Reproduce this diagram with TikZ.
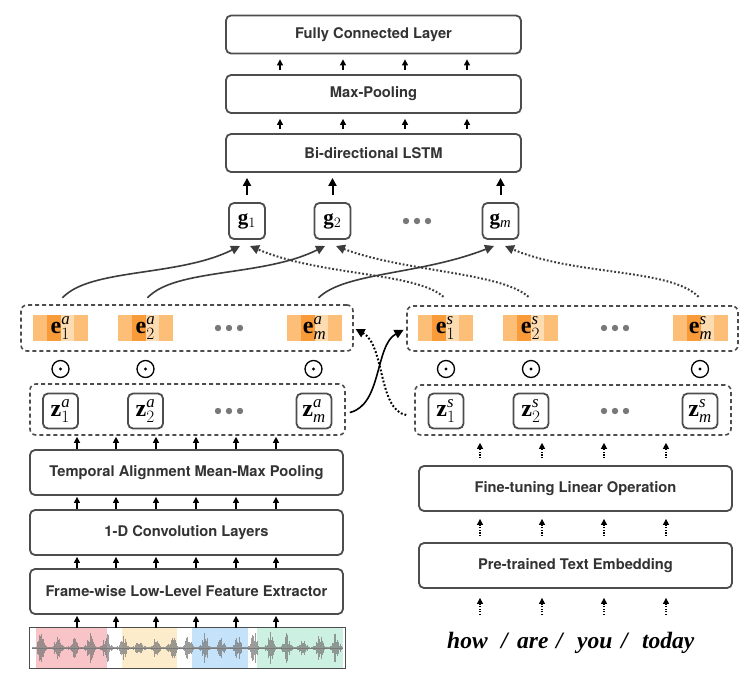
\documentclass[tikz,border=0pt]{standalone}
\usepackage{fontspec}
\setmainfont{Liberation Serif}
\newfontfamily\hv{TeX Gyre Heros}
\usetikzlibrary{arrows.meta,calc}
\definecolor{boxline}{RGB}{77,77,77}
\definecolor{txt}{RGB}{51,51,51}
\definecolor{oA}{RGB}{253,191,120}
\definecolor{oB}{RGB}{249,155,56}
\definecolor{oC}{RGB}{253,220,178}
\definecolor{dotgray}{RGB}{120,120,120}
\definecolor{curvegray}{RGB}{60,60,60}
\definecolor{wRed}{RGB}{248,196,200}
\definecolor{wYel}{RGB}{253,236,204}
\definecolor{wBlu}{RGB}{196,226,250}
\definecolor{wGrn}{RGB}{204,240,226}
\begin{document}
\begin{tikzpicture}[x=1pt,y=-1pt,
  layer/.style={draw=boxline, line width=1.8pt, rounded corners=5pt, fill=white,
    minimum width=#1, minimum height=38pt, inner sep=0pt,
    font=\hv\bfseries\fontsize{14.7}{17}\selectfont, text=txt},
  layer/.default=295pt,
  sq/.style={draw=boxline, line width=1.8pt, rounded corners=5pt, fill=white,
    minimum size=35pt, inner sep=0pt, font=\fontsize{24}{28}\selectfont},
  dbox/.style={draw=boxline, dash pattern=on 4pt off 3pt, line width=1.6pt,
    rounded corners=6pt, inner sep=0pt},
  eblk/.style={fill=oA, minimum width=55pt, minimum height=26pt, inner sep=0pt,
    font=\fontsize{24}{28}\selectfont,
    path picture={
      \fill[oB] ($(path picture bounding box.south west)!0.25!(path picture bounding box.south east)$)
        rectangle ($(path picture bounding box.north west)!0.5!(path picture bounding box.north east)$);
      \fill[oC] ($(path picture bounding box.south west)!0.5!(path picture bounding box.south east)$)
        rectangle ($(path picture bounding box.north west)!0.75!(path picture bounding box.north east)$);
    }},
  odotc/.style={circle, draw=black, line width=1.3pt, minimum size=17pt, inner sep=0pt},
  arr/.style={-{Triangle[width=6pt,length=6pt]}, line width=1.2pt, draw=black},
  arrbig/.style={-{Triangle[width=8pt,length=8pt]}, line width=2pt, draw=black},
  darr/.style={-{Triangle[width=6pt,length=6pt]}, line width=1.1pt, dash pattern=on 1.3pt off 1.3pt, draw=black},
  scurve/.style={-{Triangle[width=9pt,length=9pt]}, line width=1.6pt, draw=curvegray, fill=none},
  dcurve/.style={-{Triangle[width=9pt,length=9pt]}, line width=2pt, draw=curvegray, dash pattern=on 1.8pt off 2pt},
  xsolid/.style={-{Triangle[width=9pt,length=9pt]}, line width=1.6pt, draw=black},
  xdot/.style={-{Triangle[width=9pt,length=9pt]}, line width=2pt, draw=black, dash pattern=on 1.8pt off 2pt},
  word/.style={anchor=base west, inner sep=0pt, font=\bfseries\itshape\fontsize{23.5}{28}\selectfont},
  wave/.style={draw=black!55, line width=0.55pt, opacity=0.7}
]
\useasboundingbox (0,0) rectangle (755,678);
\fill[white] (0,0) rectangle (755,678);

% ---------------- top layers
\node[layer] (fc) at (373.5,34.5) {Fully Connected Layer};
\node[layer] (mp) at (373.5,94) {Max-Pooling};
\node[layer] (lstm) at (373.5,153) {Bi-directional LSTM};
\foreach \x in {280,343,405,467} {
  \draw[arr, shorten <=4pt, shorten >=5pt] (mp.north -| \x,0) -- (fc.south -| \x,0);
  \draw[arr, shorten <=4pt, shorten >=5pt] (lstm.north -| \x,0) -- (mp.south -| \x,0);
}

% ---------------- g nodes
\node[sq, minimum size=36pt, font=\fontsize{21}{25}\selectfont] (g1) at (247,221) {$\mathbf{g}_{1}$};
\node[sq, minimum size=36pt, font=\fontsize{21}{25}\selectfont] (g2) at (332.5,221) {$\mathbf{g}_{2}$};
\node[sq, minimum size=36pt, font=\fontsize{21}{25}\selectfont] (gm) at (500.5,221) {$\mathbf{g}_{\mathit{m}}$};
\foreach \n in {g1,g2,gm}
  \draw[arrbig, shorten <=7pt, shorten >=5pt] (\n.north) -- (lstm.south -| \n.north);
\foreach \x in {406,417,428} \fill[dotgray] (\x,221) circle (3.2);

\coordinate (g1a) at (240,246);
\coordinate (g1s) at (250,246);
\coordinate (g2a) at (325,246);
\coordinate (g2s) at (336,246);
\coordinate (gma) at (494,246);
\coordinate (gms) at (505,246);

% ---------------- audio e row
\node[dbox, minimum width=332pt, minimum height=46pt] (eadash) at (187,328) {};
\node[eblk] (ea1) at (60.5,328) {$\mathbf{e}^{\mathit{a}}_{1}$};
\node[eblk] (ea2) at (145.5,328) {$\mathbf{e}^{\mathit{a}}_{2}$};
\node[eblk] (eam) at (314.5,328) {$\mathbf{e}^{\mathit{a}}_{\mathit{m}}$};
\foreach \x in {218,229,240} \fill[dotgray] (\x,328) circle (3.2);

% ---------------- text e row
\node[dbox, minimum width=331pt, minimum height=45pt] (esdash) at (572.5,328.5) {};
\node[eblk] (es1) at (445.5,328) {$\mathbf{e}^{\mathit{s}}_{1}$};
\node[eblk] (es2) at (530.5,328) {$\mathbf{e}^{\mathit{s}}_{2}$};
\node[eblk] (esm) at (700.5,328) {$\mathbf{e}^{\mathit{s}}_{\mathit{m}}$};
\foreach \x in {604,615,626} \fill[dotgray] (\x,328) circle (3.2);

% ---------------- odot symbols
\foreach \n/\x in {oa1/60.5,oa2/145.5,oam/313.5,os1/446,os2/531,osm/700} {
  \node[odotc] (\n) at (\x,369) {};
  \fill (\n.center) circle (1.6);
}

% ---------------- audio z row
\node[dbox, minimum width=315pt, minimum height=51pt] (zadash) at (187.5,409.5) {};
\node[sq] (za1) at (60.5,411) {$\mathbf{z}^{\mathit{a}}_{1}$};
\node[sq] (za2) at (145.5,411) {$\mathbf{z}^{\mathit{a}}_{2}$};
\node[sq] (zam) at (314,411) {$\mathbf{z}^{\mathit{a}}_{\mathit{m}}$};
\foreach \x in {218,229,240} \fill[dotgray] (\x,411) circle (3.2);

% ---------------- text z row
\node[dbox, minimum width=316pt, minimum height=50pt] (zsdash) at (573,410) {};
\node[sq] (zs1) at (446,411) {$\mathbf{z}^{\mathit{s}}_{1}$};
\node[sq] (zs2) at (531,411) {$\mathbf{z}^{\mathit{s}}_{2}$};
\node[sq] (zsm) at (700,411) {$\mathbf{z}^{\mathit{s}}_{\mathit{m}}$};
\foreach \x in {604,615,626} \fill[dotgray] (\x,411) circle (3.2);

% ---------------- curves to g
\draw[scurve] ([xshift=2pt,yshift=17pt]ea1.north) .. controls (90,268) and (178,277) .. (g1a);
\draw[scurve] ([xshift=2pt,yshift=17pt]ea2.north) .. controls (175,268) and (263,277) .. (g2a);
\draw[scurve] ([xshift=4pt,yshift=17pt]eam.north) .. controls (345,272) and (420,275) .. (gma);
\draw[dcurve] ([xshift=-2pt,yshift=18pt]es1.north) .. controls (415,272) and (320,276) .. (g1s);
\draw[dcurve] ([xshift=-2pt,yshift=18pt]es2.north) .. controls (500,272) and (405,272) .. (g2s);
\draw[dcurve] ([xshift=-2pt,yshift=18pt]esm.north) .. controls (670,268) and (575,276) .. (gms);

% ---------------- cross connections
\draw[xsolid, shorten >=3pt] ([xshift=4pt,yshift=-3pt]zadash.east) .. controls (382,405) and (375,345) .. (esdash.west);
\draw[xdot, shorten >=2pt] ([xshift=-8pt,yshift=-5pt]zsdash.west) .. controls (378,410) and (385,345) .. (eadash.east);

% ---------------- audio branch
\node[layer=313pt, minimum height=45pt] (tam) at (186.5,472.5) {Temporal Alignment Mean-Max Pooling};
\node[layer=313pt, minimum height=45pt] (conv) at (186.5,532.5) {1-D Convolution Layers};
\node[layer=313pt, minimum height=45pt] (few) at (186.5,591.5) {Frame-wise Low-Level Feature Extractor};

\node[minimum width=315pt, minimum height=40pt, inner sep=0pt] (wave) at (187.5,648) {};
\fill[wRed] (36,628) rectangle (107,668);
\fill[wYel] (122,628) rectangle (177,668);
\fill[wBlu] (192,628) rectangle (248,668);
\fill[wGrn] (257,628) rectangle (343,668);
\draw[black!45, line width=0.7pt] (32,648) -- (343,648);
\pgfmathsetseed{7}
\foreach \i in {0,...,310} {
  \pgfmathsetmacro\xx{32+\i*1.0}
  \pgfmathsetmacro\ss{sin(\xx*11)*sin(\xx*11)}
  \pgfmathsetmacro\env{1.5+16.5*\ss*\ss*(0.45+0.55*abs(sin(\xx*2.3+20)))}
  \pgfmathsetmacro\amp{\env*(0.3+0.7*rnd)}
  \draw[wave] (\xx,648-\amp) -- (\xx,648+\amp);
}
\draw[boxline, line width=1.2pt] (wave.south west) rectangle (wave.north east);

\foreach \x in {77,116,156,196,236,276} {
  \draw[arr, shorten >=1pt] (wave.north -| \x,0) -- (few.south -| \x,0);
  \draw[arr, shorten >=1pt] (few.north -| \x,0) -- (conv.south -| \x,0);
  \draw[arr, shorten >=1pt] (conv.north -| \x,0) -- (tam.south -| \x,0);
  \draw[arr, shorten >=1pt] (tam.north -| \x,0) -- (zadash.south -| \x,0);
}

% ---------------- text branch
\node[layer=313pt, minimum height=45pt] (ftl) at (575.5,488.5) {Fine-tuning Linear Operation};
\node[layer=313pt, minimum height=45pt] (pte) at (575.5,565.5) {Pre-trained Text Embedding};
\foreach \i/\x in {1/480,2/542,3/604,4/666} {
  \coordinate (t\i) at (\x,615);
  \draw[darr, shorten <=7pt, shorten >=7pt] (ftl.north -| \x,0) -- (zsdash.south -| \x,0);
  \draw[darr, shorten <=6pt, shorten >=7pt] (pte.north -| \x,0) -- (ftl.south -| \x,0);
  \draw[darr, shorten >=9pt] (t\i) -- (pte.south -| t\i);
}

\node[word] (w1) at (447,648) {how};
\node[word] (sl1) at (501,648) {/};
\node[word] (w2) at (517,648) {are};
\node[word] (sl2) at (556,648) {/};
\node[word] (w3) at (577,648) {you};
\node[word] (sl3) at (621,648) {/};
\node[word] (w4) at (642,648) {today};
\end{tikzpicture}
\end{document}
